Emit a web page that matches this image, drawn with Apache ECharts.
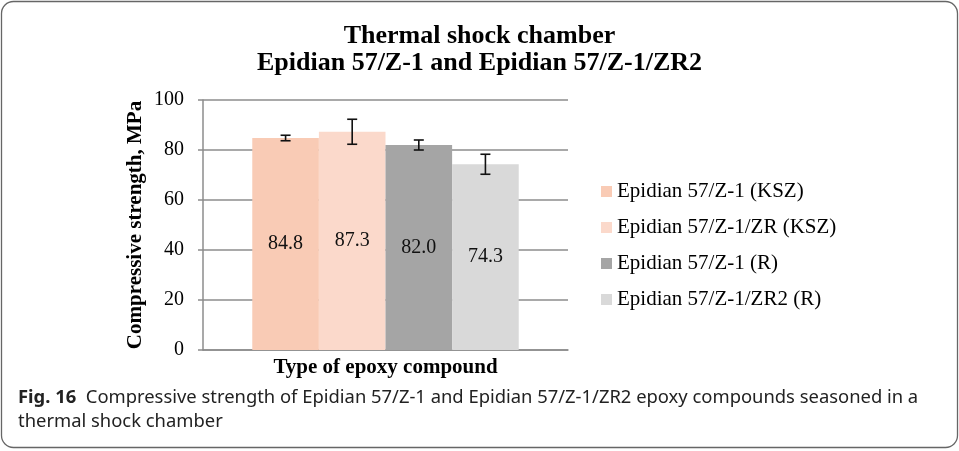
<!DOCTYPE html>
<html>
<head>
<meta charset="utf-8">
<script src="https://cdn.jsdelivr.net/npm/echarts@6/dist/echarts.min.js"></script>
<style>html,body{margin:0;padding:0;background:#fff}#c{width:959px;height:451px}</style>
</head>
<body>
<div id="c"></div>
<script>
const categories = ['Type of epoxy compound'];
const seriesNames = ['Epidian 57/Z-1 (KSZ)', 'Epidian 57/Z-1/ZR (KSZ)', 'Epidian 57/Z-1 (R)', 'Epidian 57/Z-1/ZR2 (R)'];
const values = [84.8, 87.3, 82.0, 74.3];
const errors = [1.1, 5.0, 2.0, 4.0];
const colors = ['#F9CBB5', '#FBD9CB', '#A5A5A5', '#D9D9D9'];
const yTicks = [0, 20, 40, 60, 80, 100];

const serif = '"Liberation Serif", "Times New Roman", serif';
const gapPct = 27;

const chart = echarts.init(document.getElementById('c'));

const barSeries = seriesNames.map((n, i) => ({
  name: n,
  type: 'bar',
  data: [values[i]],
  barGap: '0%',
  barCategoryGap: gapPct + '%',
  itemStyle: { color: colors[i] },
  label: {
    show: true, position: 'inside', color: '#111',
    fontFamily: serif, fontSize: 20,
    formatter: p => p.value.toFixed(1)
  },
  z: 2
}));

const errSeries = {
  type: 'custom',
  name: 'err',
  data: values.map((v, i) => [0, v - errors[i], v + errors[i], i]),
  renderItem: function (params, api) {
    const cat = api.value(0);
    const lo = api.value(1), hi = api.value(2), i = api.value(3);
    const band = api.size([1, 0])[0];
    const barW = band * (1 - gapPct / 100) / seriesNames.length;
    const center = api.coord([cat, 0])[0];
    const x = center - barW * seriesNames.length / 2 + barW * (i + 0.5);
    const yLo = api.coord([cat, lo])[1];
    const yHi = api.coord([cat, hi])[1];
    const cap = 5;
    const st = { stroke: '#111', lineWidth: 1.6 };
    return {
      type: 'group',
      children: [
        { type: 'line', shape: { x1: x, y1: yLo, x2: x, y2: yHi }, style: st },
        { type: 'line', shape: { x1: x - cap, y1: yLo, x2: x + cap, y2: yLo }, style: st },
        { type: 'line', shape: { x1: x - cap, y1: yHi, x2: x + cap, y2: yHi }, style: st }
      ]
    };
  },
  z: 5
};

chart.setOption({
  animation: false,
  title: {
    text: 'Thermal shock chamber\nEpidian 57/Z-1 and Epidian 57/Z-1/ZR2',
    left: 'center', top: 18,
    textStyle: { fontFamily: serif, fontWeight: 'bold', fontSize: 26, lineHeight: 27, color: '#000' }
  },
  legend: {
    data: seriesNames,
    orient: 'vertical',
    left: 596, top: 176,
    itemWidth: 11, itemHeight: 11, itemGap: 15,
    icon: 'rect',
    textStyle: { fontFamily: serif, fontSize: 21, lineHeight: 21, color: '#000' }
  },
  grid: { left: 203, right: 391, top: 100, bottom: 101 },
  xAxis: {
    type: 'category',
    data: categories,
    axisLine: { lineStyle: { color: '#8c8c8c', width: 1.5 } },
    axisTick: { show: false },
    axisLabel: {
      fontFamily: serif, fontWeight: 'bold', fontSize: 21, color: '#000', margin: 7
    }
  },
  yAxis: {
    type: 'value', min: 0, max: 100, interval: 20,
    name: 'Compressive strength, MPa',
    nameLocation: 'middle', nameGap: 57, nameRotate: 90,
    nameTextStyle: { fontFamily: serif, fontWeight: 'bold', fontSize: 21, color: '#000' },
    axisLine: { show: true, lineStyle: { color: '#8c8c8c', width: 1.5 } },
    axisTick: { show: true, length: 5, lineStyle: { color: '#8c8c8c', width: 1.5 } },
    splitLine: { lineStyle: { color: '#8c8c8c', width: 1.5 } },
    axisLabel: {
      fontFamily: serif, fontSize: 20, color: '#000', margin: 19,
      formatter: v => yTicks.includes(v) ? String(v) : ''
    }
  },
  series: [...barSeries, errSeries],
  graphic: [
    {
      type: 'rect', silent: true,
      shape: { x: 1.5, y: 1.5, width: 956, height: 446, r: 12 },
      style: { fill: 'none', stroke: '#666', lineWidth: 1.3 }
    },
    {
      type: 'text', left: 18, top: 386,
      style: {
        text: '{b|Fig. 16}  Compressive strength of Epidian 57/Z-1 and Epidian 57/Z-1/ZR2 epoxy compounds seasoned in a\nthermal shock chamber',
        fontFamily: '"Noto Sans", sans-serif', fontSize: 18.4, lineHeight: 24, fill: '#222',
        rich: { b: { fontFamily: '"Noto Sans", sans-serif', fontWeight: 'bold', fontSize: 18.4, lineHeight: 24, fill: '#222' } }
      }
    }
  ]
});
</script>
</body>
</html>
